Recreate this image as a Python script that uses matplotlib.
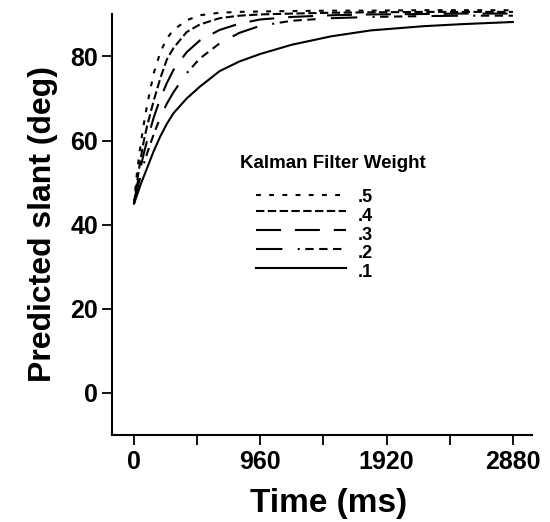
import matplotlib

matplotlib.use("Agg")
from matplotlib import pyplot as plt
from matplotlib.lines import Line2D

# time samples (ms) shared by all curves
time_ms = [0, 25, 50, 75, 100, 150, 200, 250, 300, 400, 500, 650, 800, 960,
           1200, 1500, 1800, 2200, 2500, 2880]

# predicted slant (deg)
slant_w5 = [45, 53, 59, 64, 68.5, 76, 81, 84.3, 86.3, 88.6, 89.8, 90.4, 90.6,
            90.7, 90.8, 90.9, 90.9, 91.0, 91.0, 91.0]
slant_w4 = [45, 50.5, 55.5, 60, 63.5, 69.5, 74.8, 79.3, 82, 85.8, 87.6, 89.1,
            89.7, 90.0, 90.2, 90.4, 90.5, 90.6, 90.6, 90.6]
slant_w3 = [45, 49.5, 53.5, 57, 60, 65.5, 70, 73.7, 76.8, 81, 83.8, 86.3,
            87.8, 88.8, 89.4, 89.8, 90.0, 90.1, 90.2, 90.2]
slant_w2 = [45, 48.5, 51.5, 54.5, 57, 61.5, 65.5, 68.8, 71.5, 76, 79.5, 83.1,
            85.6, 87.3, 88.5, 89.1, 89.4, 89.6, 89.7, 89.7]
slant_w1 = [45, 47.2, 49.5, 51.5, 53.5, 57.5, 61, 64, 66.5, 70, 72.8, 76.5,
            78.8, 80.6, 82.8, 84.8, 86.2, 87.2, 87.7, 88.2]

weights = [".5", ".4", ".3", ".2", ".1"]
series = [slant_w5, slant_w4, slant_w3, slant_w2, slant_w1]

x_major = [0, 960, 1920, 2880]
x_minor = [480, 1440, 2400]
y_ticks = [0, 20, 40, 60, 80]

# dash patterns in points, None = solid
dash_styles = [
    (3.5, 6),
    (6, 2.5),
    (18, 10),
    (19, 11, 1.5, 4, 6, 4, 6, 4, 6, 11),
    None,
]

plt.rcParams["font.family"] = ["Liberation Sans", "DejaVu Sans"]
plt.rcParams["font.weight"] = "bold"
plt.rcParams["lines.scale_dashes"] = False

fig = plt.figure(figsize=(5.5, 5.22), dpi=100)
ax = fig.add_axes([112 / 550, 87 / 522, 420 / 550, 421 / 522])

for y, dashes in zip(series, dash_styles):
    line, = ax.plot(time_ms, y, color="black", lw=1.5, clip_on=False)
    if dashes is not None:
        line.set_dashes(dashes)

ax.set_xlim(-167, 3025)
ax.set_ylim(-10, 90.1)

for side in ("top", "right"):
    ax.spines[side].set_visible(False)
for side in ("left", "bottom"):
    ax.spines[side].set_linewidth(1.5)

ax.set_xticks(x_major)
ax.set_xticks(x_minor, minor=True)
ax.set_yticks(y_ticks)
ax.tick_params(axis="both", which="both", direction="out", width=1.3,
               length=7, labelsize=18, pad=4)
ax.tick_params(axis="y", pad=3)

ax.set_xlabel("Time (ms)", fontsize=24, fontweight="bold", labelpad=9)
ax.xaxis.set_label_coords(0.515, -0.125)
ax.set_ylabel("Predicted slant (deg)", fontsize=23, fontweight="bold",
              labelpad=9)

# hand made legend, placed in axes fraction
ax.text(0.526, 0.646, "Kalman Filter Weight", transform=ax.transAxes,
        ha="center", va="center", fontsize=13.5, fontweight="bold")
line_y = [0.570, 0.532, 0.487, 0.442, 0.397]
label_y = [0.563, 0.518, 0.473, 0.432, 0.385]
for lab, dashes, ly, ty in zip(weights, dash_styles, line_y, label_y):
    h = Line2D([0.343, 0.557], [ly, ly], transform=ax.transAxes,
               color="black", lw=1.5)
    if dashes is not None:
        h.set_dashes(dashes)
    ax.add_line(h)
    ax.text(0.586, ty, lab, transform=ax.transAxes, ha="left", va="center",
            fontsize=13, fontweight="bold")

fig.savefig("out.png", dpi=100)
